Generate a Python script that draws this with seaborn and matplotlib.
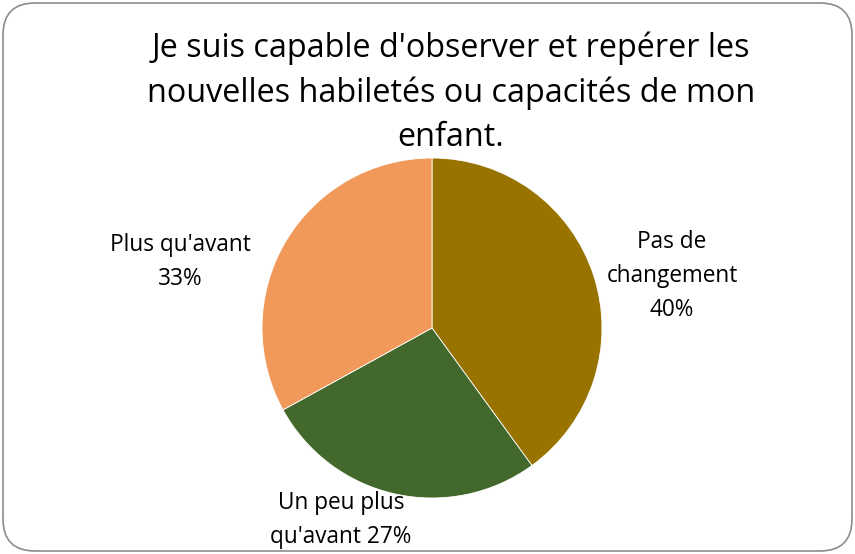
import matplotlib
matplotlib.use("Agg")
import matplotlib.pyplot as plt
import seaborn as sns
from matplotlib.patches import FancyBboxPatch

# data
categories = ["Pas de changement", "Un peu plus qu'avant", "Plus qu'avant"]
shares = [40, 27, 33]
label_texts = ["Pas de\nchangement\n40%", "Un peu plus\nqu'avant 27%", "Plus qu'avant\n33%"]
colors = ["#997300", "#43682B", "#F0995A"]
title = "Je suis capable d'observer et repérer les\nnouvelles habiletés ou capacités de mon\nenfant."

sns.set_theme(style="white")
plt.rcParams['font.family'] = ['Open Sans', 'DejaVu Sans']

W, H = 855, 554
fig = plt.figure(figsize=(W / 100, H / 100), dpi=100)

# rounded frame behind everything
frame = FancyBboxPatch((3, 3), W - 6, H - 6, boxstyle="round,pad=0,rounding_size=32",
                       transform=None, facecolor="none", edgecolor="#8c8c8c", lw=1.2,
                       zorder=-5)
fig.patches.append(frame)

cx, cy, r = 432, 328, 170
ax = fig.add_axes([(cx - r) / W, (H - cy - r) / H, 2 * r / W, 2 * r / H])
ax.pie(shares, colors=colors, startangle=90, counterclock=False, radius=1,
       wedgeprops=dict(linewidth=0.6, edgecolor="white"))
ax.set_xlim(-1, 1)
ax.set_ylim(-1, 1)
ax.set_aspect("equal")
ax.axis("off")
ax.patch.set_visible(False)

def px(x, y):
    return x / W, 1 - y / H

fig.text(*px(451, 93), title, ha="center", va="center", fontsize=23.3,
         linespacing=1.45, color="#000000")

label_pos = [(672, 276), (341, 520), (180, 262)]
for txt, (x, y) in zip(label_texts, label_pos):
    fig.text(*px(x, y), txt, ha="center", va="center", fontsize=16.3,
             linespacing=1.55, color="#000000")

fig.savefig("out.png", dpi=100)
